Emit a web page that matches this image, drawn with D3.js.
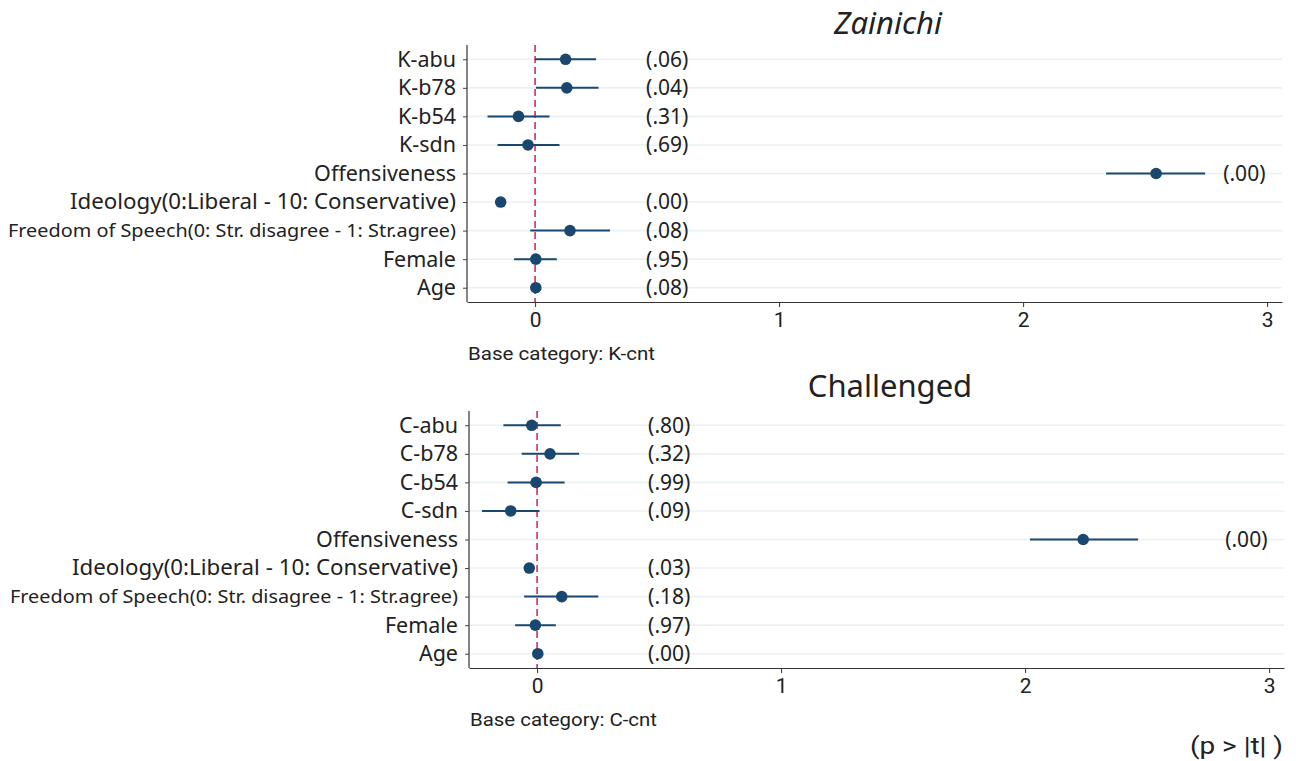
<!DOCTYPE html>
<html>
<head>
<meta charset="utf-8">
<script src="https://cdn.jsdelivr.net/npm/d3@7"></script>
<style>
  body { margin: 0; background: #fff; }
  svg { display: block; }
  .lab { font-family: "Noto Sans", "DejaVu Sans", sans-serif; fill: #222; }
  .narrow { font-family: "Roboto", "Noto Sans", sans-serif; fill: #222; }
</style>
</head>
<body>
<svg id="chart" width="1296" height="761"></svg>
<script>
// coefficient plot data
let zainichiCats = ["K-abu", "K-b78", "K-b54", "K-sdn", "Offensiveness",
  "Ideology(0:Liberal - 10: Conservative)",
  "Freedom of Speech(0: Str. disagree - 1: Str.agree)", "Female", "Age"];
let zainichiEst = [0.125, 0.130, -0.068, -0.029, 2.545, -0.141, 0.143, 0.003, 0.003];
let zainichiLo  = [0.000, 0.004, -0.195, -0.154, 2.340, -0.152, -0.020, -0.086, -0.003];
let zainichiHi  = [0.250, 0.260, 0.059, 0.100, 2.746, -0.130, 0.307, 0.089, 0.009];
let zainichiP   = ["(.06)", "(.04)", "(.31)", "(.69)", "(.00)", "(.00)", "(.08)", "(.95)", "(.08)"];

let challengedCats = ["C-abu", "C-b78", "C-b54", "C-sdn", "Offensiveness",
  "Ideology(0:Liberal - 10: Conservative)",
  "Freedom of Speech(0: Str. disagree - 1: Str.agree)", "Female", "Age"];
let challengedEst = [-0.022, 0.053, -0.004, -0.108, 2.238, -0.032, 0.101, -0.007, 0.003];
let challengedLo  = [-0.138, -0.063, -0.121, -0.226, 2.020, -0.042, -0.053, -0.090, -0.001];
let challengedHi  = [0.097, 0.172, 0.113, 0.010, 2.463, -0.022, 0.251, 0.077, 0.007];
let challengedP   = ["(.80)", "(.32)", "(.99)", "(.09)", "(.00)", "(.03)", "(.18)", "(.97)", "(.00)"];

let xTicks = [0, 1, 2, 3];

let navy = "#1a476f";
let svg = d3.select("#chart");

function fitWidth(sel, w) {
  sel.attr("textLength", w).attr("lengthAdjust", "spacingAndGlyphs");
}

function drawPanel(cfg) {
  let g = svg.append("g").attr("transform", `translate(${cfg.dx},0)`);
  let x = d3.scaleLinear().domain([-0.279, 3.061]).range([467, 1282]);
  let y = d3.scalePoint().domain(cfg.cats).range([cfg.top, cfg.bottom]).padding(0.5);

  let rows = cfg.cats.map((c, i) => ({cat: c, est: cfg.est[i], lo: cfg.lo[i], hi: cfg.hi[i], p: cfg.p[i]}));

  // grid lines
  g.selectAll(".grid").data(rows).enter().append("line")
    .attr("x1", x.range()[0]).attr("x2", x.range()[1])
    .attr("y1", d => y(d.cat)).attr("y2", d => y(d.cat))
    .attr("stroke", "#eaf1f3").attr("stroke-width", 1.6);

  // zero line
  g.append("line")
    .attr("x1", x(0)).attr("x2", x(0))
    .attr("y1", cfg.top).attr("y2", cfg.bottom)
    .attr("stroke", "#d81b55").attr("stroke-width", 1.5)
    .attr("stroke-dasharray", "7,4");

  // y axis
  let ya = g.append("g").attr("transform", `translate(${x.range()[0]},0)`)
    .call(d3.axisLeft(y).tickSize(4).tickPadding(7).tickSizeOuter(0));
  ya.select(".domain").attr("stroke", "#333").attr("stroke-width", 1.2)
    .attr("d", `M0,${cfg.top}V${cfg.bottom}`);
  ya.selectAll(".tick line").attr("stroke", "#444");
  ya.selectAll(".tick text").attr("class", "lab")
    .style("font-size", d => d.startsWith("Freedom") ? "18px" : "21.5px")
    .each(function(d) {
      if (d.startsWith("Freedom")) fitWidth(d3.select(this), 448);
      if (d.startsWith("Ideology")) fitWidth(d3.select(this), 386);
    });

  // x axis
  let xa = g.append("g").attr("transform", `translate(0,${cfg.bottom})`)
    .call(d3.axisBottom(x).tickValues(xTicks).tickFormat(d3.format("d"))
      .tickSize(5).tickPadding(5).tickSizeOuter(0));
  xa.select(".domain").attr("stroke", "#333").attr("stroke-width", 1.2);
  xa.selectAll(".tick line").attr("stroke", "#333");
  xa.selectAll(".tick text").attr("class", "narrow").style("font-size", "21px");

  // confidence intervals
  g.selectAll(".ci").data(rows).enter().append("line")
    .attr("x1", d => x(d.lo)).attr("x2", d => x(d.hi))
    .attr("y1", d => y(d.cat)).attr("y2", d => y(d.cat))
    .attr("stroke", navy).attr("stroke-width", 2);

  // estimates
  g.selectAll(".pt").data(rows).enter().append("circle")
    .attr("cx", d => x(d.est)).attr("cy", d => y(d.cat))
    .attr("r", 5.8).attr("fill", navy);

  // p-values
  g.selectAll(".pv").data(rows).enter().append("text")
    .attr("class", "lab")
    .attr("x", d => d.est > 1 ? x(2.82) : x(0.455))
    .attr("y", d => y(d.cat)).attr("dy", "0.35em")
    .style("font-size", "21px")
    .text(d => d.p);

  // title
  g.append("text").attr("class", "lab")
    .attr("x", 888).attr("y", cfg.titleY)
    .attr("text-anchor", "middle")
    .style("font-size", "31px")
    .style("font-style", cfg.italic ? "italic" : "normal")
    .text(cfg.title);

  // note
  g.append("text").attr("class", "narrow")
    .attr("x", x.range()[0] + 1).attr("y", cfg.bottom + 58)
    .style("font-size", "18px")
    .call(fitWidth, 187)
    .text(cfg.note);
}

drawPanel({cats: zainichiCats, est: zainichiEst, lo: zainichiLo, hi: zainichiHi, p: zainichiP,
  top: 45, bottom: 302, dx: 0, title: "Zainichi", italic: true, titleY: 34, note: "Base category: K-cnt"});
drawPanel({cats: challengedCats, est: challengedEst, lo: challengedLo, hi: challengedHi, p: challengedP,
  top: 411, bottom: 668, dx: 2, title: "Challenged", italic: false, titleY: 397, note: "Base category: C-cnt"});

svg.append("text").attr("class", "narrow")
  .attr("x", 1283).attr("y", 754)
  .attr("text-anchor", "end")
  .style("font-size", "24px")
  .call(fitWidth, 93)
  .text("(p > |t| )");
</script>
</body>
</html>
